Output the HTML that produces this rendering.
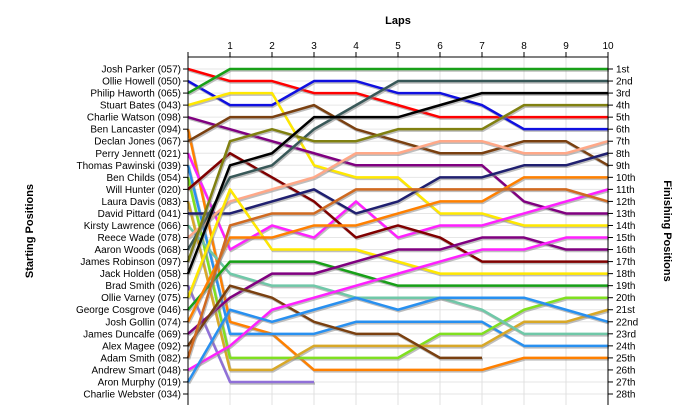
<!DOCTYPE html>
<html><head><meta charset="utf-8"><style>
body{margin:0;background:#fff;}
svg{display:block;font-family:"Liberation Sans",sans-serif;}
</style></head><body>
<svg id="chart" width="700" height="420" viewBox="0 0 700 420" xmlns="http://www.w3.org/2000/svg">
<text x="398" y="24" font-size="11" font-weight="bold" text-anchor="middle">Laps</text>
<text transform="translate(33,231) rotate(-90)" font-size="11" font-weight="bold" text-anchor="middle">Starting Positions</text>
<text transform="translate(664,231) rotate(90)" font-size="11" font-weight="bold" text-anchor="middle">Finishing Positions</text>
<g id="grid"></g>
<g id="series"></g>
<g id="axes"></g>
</svg>
<script>
const lapLabels = ["1","2","3","4","5","6","7","8","9","10"];
const startNames = ["Josh Parker (057)","Ollie Howell (050)","Philip Haworth (065)","Stuart Bates (043)","Charlie Watson (098)","Ben Lancaster (094)","Declan Jones (067)","Perry Jennett (021)","Thomas Pawinski (039)","Ben Childs (054)","Will Hunter (020)","Laura Davis (083)","David Pittard (041)","Kirsty Lawrence (066)","Reece Wade (078)","Aaron Woods (068)","James Robinson (097)","Jack Holden (058)","Brad Smith (026)","Ollie Varney (075)","George Cosgrove (046)","Josh Gollin (074)","James Duncalfe (069)","Alex Magee (092)","Adam Smith (082)","Andrew Smart (048)","Aron Murphy (019)","Charlie Webster (034)"];
const finishLabels = ["1st","2nd","3rd","4th","5th","6th","7th","8th","9th","10th","11th","12th","13th","14th","15th","16th","17th","18th","19th","20th","21st","22nd","23rd","24th","25th","26th","27th","28th"];
const seriesColors = ["#ff0000","#1010e0","#18a018","#ffe800","#800080","#ff8000","#7a4010","#ff20ff","#2890f0","#80e020","#800000","#d8a828","#202070","#70c8a8","#ffa888","#385858","#808010","#000000","#9070d8","#ffe800","#18a018","#ff8000","#800080","#7a4010","#d06a20","#ff20ff","#2890f0"];
const posRed = [1,2,2,3,3,4,5,5,5,5,5];
const posBlue = [2,4,4,2,2,3,3,4,6,6,6];
const posGreen1 = [3,1,1,1,1,1,1,1,1,1,1];
const posYellow1 = [4,3,3,9,10,10,13,13,14,14,14];
const posPurple1 = [5,6,7,8,9,9,9,9,12,13,13];
const posOrange2 = [6,22,23,26,26,26,26,26,25,25,25];
const posBrown1 = [7,5,5,4,6,7,8,8,7,7,9];
const posMagenta1 = [8,16,14,15,12,15,14,14,13,12,11];
const posDodger2 = [9,23,23,23,22,22,22,22,24,24,24];
const posChartreuse = [10,25,25,25,25,25,23,23,21,20,20];
const posDarkred = [11,8,10,12,15,14,15,17,17,17,17];
const posGoldenrod = [12,26,26,24,24,24,24,24,22,22,21];
const posNavy = [13,13,12,11,13,12,10,10,9,9,8];
const posAqua = [14,18,19,19,20,20,20,21,23,23,23];
const posSalmon = [15,12,11,10,8,8,7,7,8,8,7];
const posSlate = [16,10,9,6,4,2,2,2,2,2,2];
const posOlive = [17,7,6,7,7,6,6,6,4,4,4];
const posBlack = [18,9,8,5,5,5,4,3,3,3,3];
const posLavender = [19,27,27,27];
const posYellow2 = [20,11,16,16,16,17,18,18,18,18,18];
const posGreen2 = [21,17,17,17,18,19,19,19,19,19,19];
const posOrange1 = [22,15,15,14,14,13,12,12,10,10,10];
const posPurple2 = [23,20,18,18,17,16,16,15,15,16,16];
const posBrown2 = [24,19,20,22,23,23,25,25];
const posChocolate = [25,14,13,13,11,11,11,11,11,11,12];
const posMagenta2 = [26,24,21,20,19,18,17,16,16,15,15];
const posDodger1 = [27,21,22,21,20,21,20,20,20,21,22];
const allSeries = [posRed,posBlue,posGreen1,posYellow1,posPurple1,posOrange2,posBrown1,posMagenta1,posDodger2,posChartreuse,posDarkred,posGoldenrod,posNavy,posAqua,posSalmon,posSlate,posOlive,posBlack,posLavender,posYellow2,posGreen2,posOrange1,posPurple2,posBrown2,posChocolate,posMagenta2,posDodger1];

const NS="http://www.w3.org/2000/svg";
const x0=188,x1=608,yTop=57,yBot=405;
function xScale(l){return x0+l*(x1-x0)/lapLabels.length;}
function yScale(p){return 69+(p-1)*(394-69)/27;}
function mk(tag,attrs,parent){const e=document.createElementNS(NS,tag);for(const k in attrs)e.setAttribute(k,attrs[k]);parent.appendChild(e);return e;}
const grid=document.getElementById('grid'),series=document.getElementById('series'),axes=document.getElementById('axes');
for(let p=1;p<=startNames.length;p++){
  const l=mk('line',{x1:x0,x2:x1,y1:yScale(p),y2:yScale(p),stroke:'#e6e6e6','stroke-width':1},grid);
  
  
}
for(let i=1;i<=lapLabels.length;i++){
  const l=mk('line',{x1:xScale(i),x2:xScale(i),y1:yTop,y2:yBot,stroke:'#e0e0e0','stroke-width':1},grid);
  
  
}
allSeries.forEach((s,i)=>{
  const pts=s.map((p,l)=>xScale(l)+','+yScale(p)).join(' ');
  const sh=mk('polyline',{points:pts,fill:'none',stroke:'#888','stroke-opacity':0.55,'stroke-width':2.5,transform:'translate(1,1.5)','stroke-linejoin':'round'},series);
  
  
  const pl=mk('polyline',{points:pts,fill:'none',stroke:seriesColors[i],'stroke-width':2.5,'stroke-linejoin':'round'},series);
  
  
});
const ax=(a)=>{const e=mk('line',Object.assign({stroke:'#000','stroke-width':1},a),axes);return e;};
let e;
e=ax({x1:x0,x2:x0,y1:yTop,y2:yBot});
e=ax({x1:x1,x2:x1,y1:yTop,y2:yBot});
e=ax({x1:x0,x2:x1,y1:yTop,y2:yTop});
for(let i=0;i<=lapLabels.length;i++){
  e=ax({x1:xScale(i),x2:xScale(i),y1:yTop-5,y2:yTop});
  
  
}
lapLabels.forEach((t,i)=>{
  const tx=mk('text',{x:xScale(i+1),y:49,'font-size':10,'text-anchor':'middle'},axes);tx.textContent=t;
  
  
});
startNames.forEach((n,i)=>{
  const y=yScale(i+1);
  e=ax({x1:x0-5,x2:x0,y1:y,y2:y});
  const tx=mk('text',{x:x0-7,y:y+3.5,'font-size':10,'text-anchor':'end'},axes);tx.textContent=n;
  
  
});
finishLabels.forEach((n,i)=>{
  const y=yScale(i+1);
  e=ax({x1:x1,x2:x1+5,y1:y,y2:y});
  const tx=mk('text',{x:x1+8,y:y+3.5,'font-size':10},axes);tx.textContent=n;
  
  
});
</script>
</body></html>
